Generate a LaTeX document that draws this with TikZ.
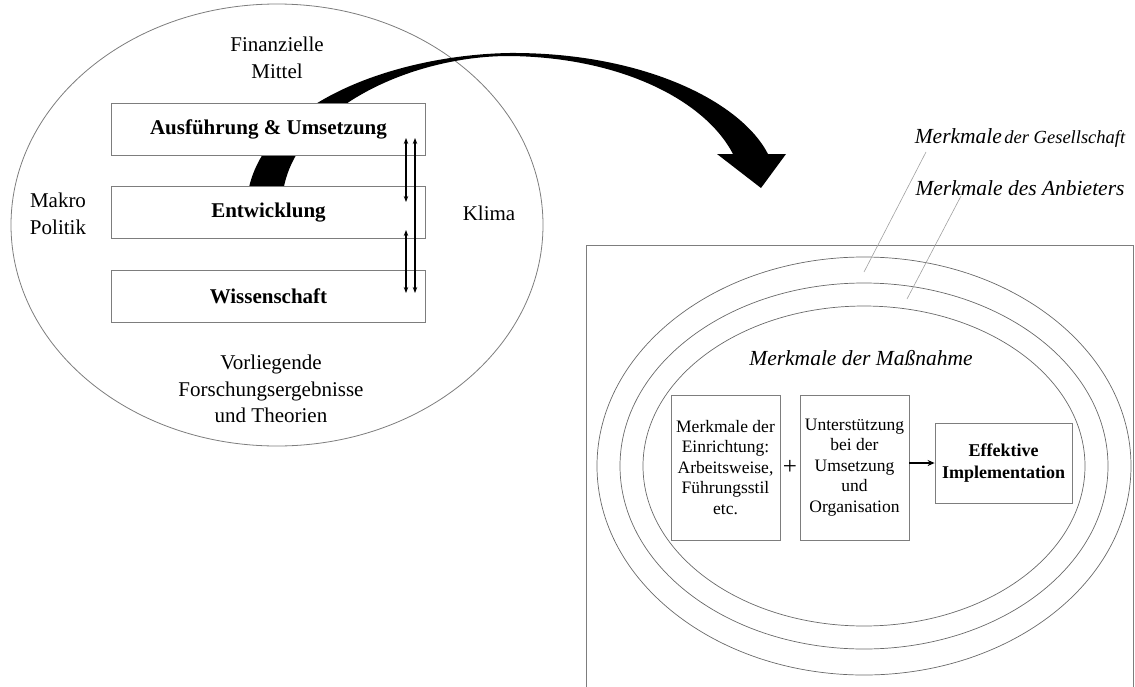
\documentclass[tikz,border=0pt]{standalone}
\usepackage{fontspec}
\setmainfont{Liberation Serif}
\usetikzlibrary{arrows.meta}
\definecolor{linegray}{RGB}{125,125,125}
\definecolor{ringgray}{RGB}{105,105,105}
\definecolor{leadgray}{RGB}{160,160,160}
\begin{document}
\begin{tikzpicture}[x=1pt,y=-1pt,
  levelbox/.style={draw=linegray, line width=0.8pt, fill=white, inner sep=0pt,
    minimum width=314pt, minimum height=52pt,
    font=\fontsize{21}{26}\selectfont\bfseries},
  lbl/.style={align=center, inner sep=0pt, font=\fontsize{21}{26.5}\selectfont},
  ring/.style={draw=ringgray, line width=0.7pt},
  leader/.style={draw=leadgray, line width=0.6pt},
  tallbox/.style={draw=linegray, line width=0.8pt, fill=white, inner sep=0pt,
    minimum width=109pt, minimum height=145pt, align=center,
    font=\fontsize{17.5}{20.5}\selectfont},
  dbl/.style={{Stealth[length=6pt,width=4.5pt]}-{Stealth[length=6pt,width=4.5pt]}, line width=1.2pt},
  curvedarrow/.style={fill=black, draw=none}
]
\useasboundingbox (0,0) rectangle (1135,686);

% ---------- left part: context ellipse ----------
\coordinate (lc) at (277,225);
\draw[draw=linegray, line width=0.8pt] (lc) ellipse [x radius=266pt, y radius=221pt];

\node[lbl] (fin) at (277,58) {Finanzielle\\Mittel};
\node[lbl] (makro) at (58,214) {Makro\\Politik};
\node[lbl] (klima) at (489,213) {Klima};
\node[lbl] (vorl) at (271,389) {Vorliegende\\Forschungsergebnisse\\und Theorien};

% ---------- big curved arrow ----------
\path[curvedarrow]
  (248,192) .. controls (265,100) and (400,55) .. (509,53)
  .. controls (640,52) and (740,100) .. (768,154)
  -- (786,154) -- (761,188) -- (717,154) -- (733,154)
  .. controls (705,100) and (620,57) .. (509,56)
  .. controls (410,56) and (295,110) .. (283,192) -- cycle;

% ---------- three levels ----------
\node[levelbox] (aus) at (268.5,129) {Ausführung \& Umsetzung};
\node[levelbox] (ent) at (268.5,212.5) {Entwicklung};
\node[levelbox] (wis) at (268.5,296.5) {Wissenschaft};

\coordinate (p1) at (406,138);
\coordinate (p2) at (406,202);
\coordinate (p3) at (406,230);
\coordinate (p4) at (406,293);
\coordinate (q1) at (415,138);
\coordinate (q2) at (415,293);
\draw[dbl] (p1) -- (p2);
\draw[dbl] (p3) -- (p4);
\draw[dbl] (q1) -- (q2);

% ---------- right part: implementation frame ----------
\draw[draw=linegray, line width=0.8pt] (586,690) -- (586,245) -- (1133,245) -- (1133,690);

\coordinate (rc) at (864,466);
\draw[ring] (rc) ellipse [x radius=267pt, y radius=209pt];
\draw[ring] (rc) ellipse [x radius=244pt, y radius=183pt];
\draw[ring] (rc) ellipse [x radius=221pt, y radius=160pt];

\node[inner sep=0pt] (ges) at (1020,138)
  {{\fontsize{21.5}{24}\selectfont\itshape Merkmale} {\fontsize{18.5}{22}\selectfont\itshape der Gesellschaft}};
\node[inner sep=0pt, font=\fontsize{21.5}{24}\selectfont\itshape] (anb) at (1020,188)
  {Merkmale des Anbieters};
\coordinate (g1) at (926,152);
\coordinate (g2) at (864,272);
\coordinate (a1) at (961,196);
\coordinate (a2) at (907,299);
\draw[leader] (g1) -- (g2);
\draw[leader] (a1) -- (a2);

\node[inner sep=0pt, font=\fontsize{21.5}{24}\selectfont\itshape] (mass) at (861,358)
  {Merkmale der Maßnahme};

\node[tallbox] (einr) at (725.5,467.5)
  {Merkmale der\\Einrichtung:\\Arbeitsweise,\\Führungsstil\\etc.};
\node[tallbox] (unt) at (854.5,467.5)
  {Unterstützung\\bei der\\Umsetzung\\und\\Organisation};
\node[draw=linegray, line width=0.8pt, fill=white, inner sep=0pt,
  minimum width=137pt, minimum height=80pt, align=center,
  font=\fontsize{18}{22}\selectfont\bfseries] (eff) at (1003.5,463)
  {Effektive\\Implementation};
\node[inner sep=0pt, font=\fontsize{25}{26}\selectfont] (plus) at (790,467) {+};
\draw[-{Stealth[length=7pt,width=6pt]}, line width=2pt] (unt.east |- eff.west) -- (eff.west);
\end{tikzpicture}
\end{document}
